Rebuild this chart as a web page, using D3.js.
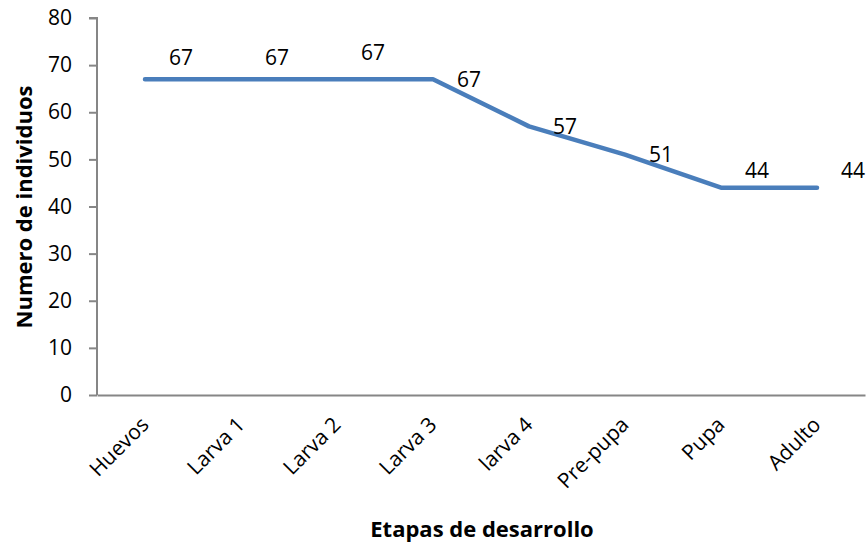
<!DOCTYPE html>
<html>
<head>
<meta charset="utf-8">
<script src="https://cdn.jsdelivr.net/npm/d3@7"></script>
<style>
  body { margin: 0; background: #fff; }
  svg { display: block; font-family: "Open Sans", sans-serif; }
</style>
</head>
<body>
<div id="chart"></div>
<script>
// --- Data ---
const stages = ['Huevos', 'Larva 1', 'Larva 2', 'Larva 3', 'larva 4', 'Pre-pupa', 'Pupa', 'Adulto'];
const counts = [67, 67, 67, 67, 57, 51, 44, 44];
const yTicks = [0, 10, 20, 30, 40, 50, 60, 70, 80];

// label lift above the point (px), as placed in the original
const labelLift = [22, 22, 27, 0, 0, 0, 17, 17];

const width = 868, height = 544;
const margin = { top: 18, right: 3, bottom: 149, left: 97 };

const svg = d3.select('#chart').append('svg')
    .attr('width', width)
    .attr('height', height);

const x = d3.scaleBand()
    .domain(stages)
    .range([margin.left, width - margin.right]);

const y = d3.scaleLinear()
    .domain([0, 80])
    .range([height - margin.bottom, margin.top]);

// --- Axes ---
const yAxis = svg.append('g')
    .attr('transform', `translate(${margin.left},0)`)
    .call(d3.axisLeft(y).tickValues(yTicks).tickSize(8).tickPadding(17));

const xAxis = svg.append('g')
    .attr('transform', `translate(0,${y(0)})`)
    .call(d3.axisBottom(x).tickSize(0).tickSizeOuter(0).tickFormat(''));

[yAxis, xAxis].forEach(g => {
    g.select('.domain').attr('stroke', '#868686').attr('stroke-width', 2);
    g.selectAll('.tick line').attr('stroke', '#868686').attr('stroke-width', 2);
});
yAxis.select('.domain').attr('d', `M-8,${y(80)}H0V${y(0)}`);
yAxis.selectAll('.tick text')
    .attr('font-size', 21)
    .attr('fill', '#000')
    .attr('font-family', '"Open Sans", sans-serif');

// rotated category labels
svg.append('g').selectAll('text')
    .data(stages)
    .join('text')
    .attr('transform', d => `translate(${x(d) + x.bandwidth() / 2 + 5},${y(0) + 31}) rotate(-45)`)
    .attr('text-anchor', 'end')
    .attr('font-size', 21)
    .attr('fill', '#000')
    .text(d => d);

// --- Line ---
const line = d3.line()
    .x((d, i) => x(stages[i]) + x.bandwidth() / 2)
    .y(d => y(d));

svg.append('path')
    .datum(counts)
    .attr('fill', 'none')
    .attr('stroke', '#4a7ebb')
    .attr('stroke-width', 4.5)
    .attr('stroke-linecap', 'round')
    .attr('stroke-linejoin', 'round')
    .attr('d', line);

// --- Data labels ---
svg.append('g').selectAll('text')
    .data(counts)
    .join('text')
    .attr('x', (d, i) => x(stages[i]) + x.bandwidth() / 2 + 36)
    .attr('y', (d, i) => y(d) - labelLift[i])
    .attr('dy', '0.35em')
    .attr('text-anchor', 'middle')
    .attr('font-size', 21)
    .attr('fill', '#000')
    .text(d => d);

// --- Titles ---
svg.append('text')
    .attr('x', 482)
    .attr('y', 537)
    .attr('text-anchor', 'middle')
    .attr('font-size', 22)
    .attr('font-weight', 'bold')
    .text('Etapas de desarrollo');

svg.append('text')
    .attr('transform', `translate(32,207) rotate(-90)`)
    .attr('text-anchor', 'middle')
    .attr('font-size', 22)
    .attr('font-weight', 'bold')
    .text('Numero de individuos');
</script>
</body>
</html>
